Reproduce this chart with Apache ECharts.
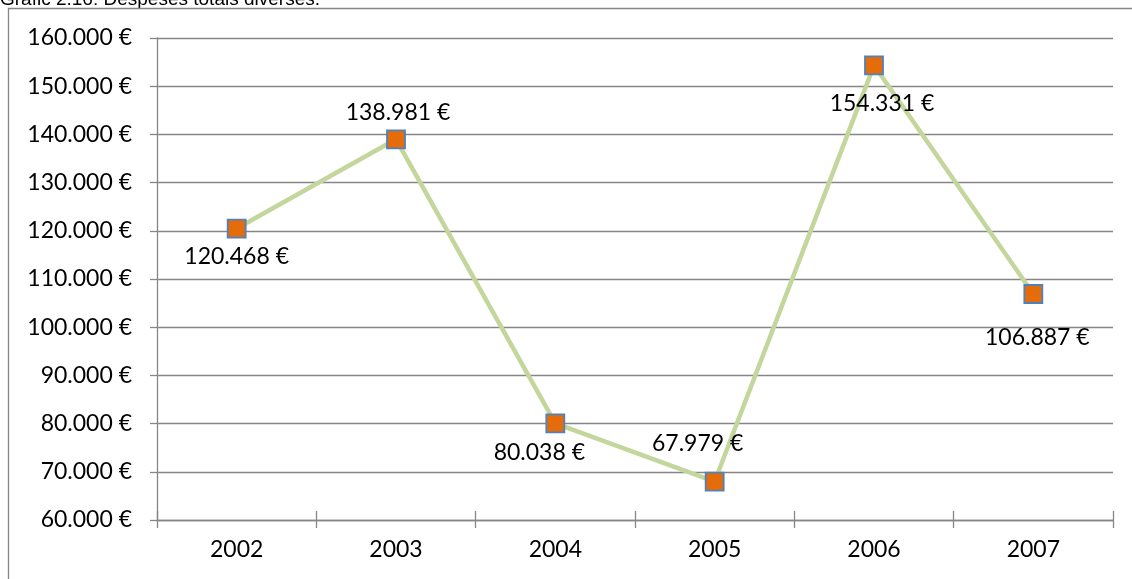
<!DOCTYPE html>
<html>
<head>
<meta charset="utf-8">
<script src="https://cdn.jsdelivr.net/npm/echarts@6/dist/echarts.min.js"></script>
<style>html,body{margin:0;padding:0;background:#fff}#c{width:1132px;height:579px}</style>
</head>
<body>
<div id="c"></div>
<script>
const title = 'Gràfic 2.16: Despeses totals diverses.';
const categories = ['2002', '2003', '2004', '2005', '2006', '2007'];
const values = [120468, 138981, 80038, 67979, 154331, 106887];
const labelOffsets = [[0, 28], [2, -27], [-16, 29], [-17, -38], [8, 38], [4, 44]];

function euro(v) {
  return String(v).replace(/\B(?=(\d{3})+(?!\d))/g, '.') + ' €';
}

const FONT = 'Lato';
const chart = echarts.init(document.getElementById('c'), null, {renderer: 'canvas'});
chart.setOption({
  animation: false,
  backgroundColor: '#fff',
  graphic: [
    {type: 'rect', shape: {x: 8.5, y: 8.5, width: 1200, height: 700}, style: {fill: 'none', stroke: '#868686', lineWidth: 1.3}, silent: true},
    {type: 'text', x: 0, y: 9, style: {text: title, font: '19px "Liberation Sans"', fill: '#000', textVerticalAlign: 'bottom'}, silent: true, z: -1}
  ],
  grid: {left: 157, top: 38, right: 19, bottom: 59, containLabel: false},
  xAxis: [{
    type: 'category', data: categories, boundaryGap: true,
    axisLine: {lineStyle: {color: '#868686', width: 1.3}},
    axisTick: {show: true, length: 8, lineStyle: {color: '#868686', width: 1.3}},
    axisLabel: {color: '#000', fontFamily: FONT, fontSize: 23, margin: 18},
    splitLine: {show: false}
  }, {
    type: 'category', data: categories, boundaryGap: true, position: 'bottom',
    axisLine: {show: false},
    axisTick: {show: true, inside: true, length: 9, lineStyle: {color: '#868686', width: 1.3}},
    axisLabel: {show: false}, splitLine: {show: false}
  }],
  yAxis: {
    type: 'value', min: 60000, max: 160000, interval: 10000,
    axisLine: {show: true, lineStyle: {color: '#868686', width: 1.3}},
    axisTick: {show: true, length: 7, lineStyle: {color: '#868686', width: 1.3}},
    axisLabel: {color: '#000', fontFamily: FONT, fontSize: 23, margin: 25, formatter: v => euro(v)},
    splitLine: {show: true, lineStyle: {color: '#868686', width: 1.3}}
  },
  series: [{
    type: 'line', data: values.map((v, i) => ({
      value: v,
      label: {show: true, position: 'inside', offset: labelOffsets[i]}
    })),
    lineStyle: {color: '#c3d69b', width: 4.5},
    symbol: 'rect', symbolSize: 18,
    itemStyle: {color: '#e46c0a', borderColor: '#4f81bd', borderWidth: 1.8},
    label: {show: true, color: '#000', fontFamily: FONT, fontSize: 23, formatter: p => euro(p.value)},
    z: 3
  }]
});
</script>
</body>
</html>
